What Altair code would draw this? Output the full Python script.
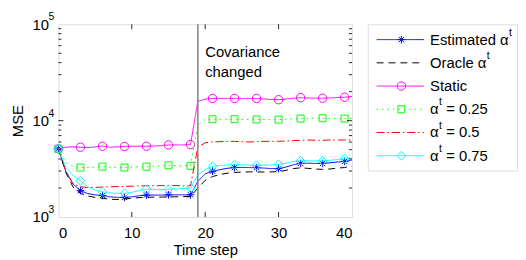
import altair as alt
import pandas as pd

# ---------------- data ----------------
time_steps = list(range(41))
estimated = [5100, 3000, 2200, 1880, 1750, 1700, 1670, 1620, 1600, 1600,
             1620, 1660, 1690, 1690, 1690, 1700, 1700, 1700, 1700, 2350,
             2800, 2990, 3100, 3200, 3260, 3270, 3260, 3250, 3220, 3180,
             3180, 3300, 3480, 3600, 3620, 3600, 3600, 3650, 3720, 3780, 3900]
oracle = [5100, 2900, 2050, 1760, 1650, 1600, 1570, 1530, 1520, 1540,
          1560, 1590, 1600, 1610, 1610, 1620, 1620, 1630, 1630, 2000,
          2400, 2630, 2760, 2850, 2900, 2930, 2940, 2940, 2930, 2940,
          2960, 3050, 3180, 3240, 3200, 3150, 3120, 3150, 3220, 3260, 3400]
static = [5100, 5300, 5350, 5300, 5250, 5350, 5430, 5300, 5350, 5400,
          5420, 5430, 5430, 5450, 5500, 5600, 5600, 5600, 5650, 15900,
          16700, 17000, 17000, 17000, 17000, 17000, 17000, 17000, 16800, 16600,
          16500, 16800, 17100, 17300, 17200, 17100, 17100, 17200, 17400, 17500, 17800]
alpha025 = [5100, 3700, 3350, 3260, 3280, 3300, 3330, 3300, 3280, 3260,
            3290, 3320, 3330, 3360, 3400, 3440, 3420, 3400, 3400, 9000,
            10300, 10350, 10350, 10350, 10350, 10300, 10300, 10300, 10280, 10260,
            10250, 10350, 10450, 10500, 10550, 10600, 10600, 10550, 10500, 10500, 10600]
alpha05 = [5100, 3000, 2200, 2060, 2020, 2030, 2050, 2060, 2070, 2080,
           2090, 2100, 2110, 2110, 2120, 2120, 2120, 2110, 2110, 5300,
           5900, 6000, 6050, 6100, 6100, 6050, 6000, 6050, 6100, 6100,
           6100, 6150, 6200, 6250, 6300, 6250, 6250, 6300, 6300, 6300, 6300]
alpha075 = [5100, 3300, 2700, 2380, 2050, 1900, 1830, 1780, 1760, 1760,
            1800, 1880, 1940, 1940, 1920, 1940, 1960, 1970, 2000, 2750,
            3100, 3350, 3420, 3470, 3500, 3480, 3450, 3440, 3450, 3480,
            3520, 3620, 3760, 3820, 3830, 3820, 3820, 3880, 3950, 4030, 4100]

series_names = ["Estimated αt", "Oracle αt", "Static",
                "αt = 0.25", "αt = 0.5", "αt = 0.75"]
legend_prefix = ["Estimated α", "Oracle α", "Static", "α", "α", "α"]
legend_sup = ["t", "t", "", "t", "t", "t"]
legend_suffix = ["", "", "", " = 0.25", " = 0.5", " = 0.75"]
series_values = [estimated, oracle, static, alpha025, alpha05, alpha075]

x_tick_values = [0, 10, 20, 30, 40]
y_tick_values = [1000, 10000, 100000]
y_tick_exps = ["3", "4", "5"]
y_minor_values = [2000, 3000, 4000, 5000, 6000, 7000, 8000, 9000,
                  20000, 30000, 40000, 50000, 60000, 70000, 80000, 90000]
change_step = 19
annotation_lines = ["Covariance", "changed"]
annotation_pos = [45870, 28610]

# ---------------- styles ----------------
ASTERISK = "M-1,0L1,0M0,-1L0,1M-0.7,-0.7L0.7,0.7M-0.7,0.7L0.7,-0.7"
colors = ["#0000ff", "#000000", "#ff00ff", "#00ff00", "#ff0000", "#00ffff"]
dashes = [[1, 0], [7, 5], [1, 0], [1.5, 4], [8, 3, 1.5, 3], [1, 0]]
shapes = [ASTERISK, None, "circle", "square", None, "diamond"]
sizes = [60, 0, 72, 50, 0, 80]
FONT = "Liberation Sans"
FS = 15
SUP_FS = 10.5
W, H = 297, 195

# Arial / Liberation Sans advance widths (per 1000 em) for legend layout
CW = {"E": 667, "s": 500, "t": 278, "i": 222, "m": 833, "a": 556, "e": 556,
      "d": 556, " ": 278, "O": 778, "r": 333, "c": 500, "l": 222, "S": 667,
      "=": 584, ".": 278, "α": 578}
for dch in "0123456789":
    CW[dch] = 556


def text_w(s, size):
    return sum(CW.get(ch, 556) for ch in s) * size / 1000.0


rows = []
for name, vals in zip(series_names, series_values):
    for t, v in zip(time_steps, vals):
        rows.append({"series": name, "t": t, "v": v})
df = pd.DataFrame(rows)

xs = alt.Scale(domain=[0, 40], nice=False)
ys = alt.Scale(type="log", domain=[1000, 100000], nice=False)

base = alt.Chart(df)
layers = []
for i, name in enumerate(series_names):
    sub = base.transform_filter(alt.datum.series == name)
    line = sub.mark_line(stroke=colors[i], color=colors[i], strokeWidth=1,
                         strokeDash=dashes[i]).encode(
        x=alt.X("t:Q", scale=xs,
                axis=alt.Axis(values=x_tick_values, title="Time step", ticks=False,
                              domain=False, grid=False, labelFont=FONT, titleFont=FONT,
                              labelFontSize=FS, titleFontSize=FS, labelColor="black",
                              titleColor="black", titleFontWeight="normal",
                              labelPadding=9, titlePadding=2)),
        y=alt.Y("v:Q", scale=ys,
                axis=alt.Axis(values=y_tick_values, title="MSE", ticks=False,
                              domain=False, grid=False, labelFont=FONT, titleFont=FONT,
                              labelFontSize=FS, titleFontSize=FS, labelColor="black",
                              titleColor="black", titleFontWeight="normal",
                              labelPadding=10, titlePadding=7, labelExpr="'10'")),
    )
    layers.append(line)
    if shapes[i] is not None:
        pts = sub.transform_filter("datum.t % 3 == 0").mark_point(
            shape=shapes[i], size=sizes[i], filled=False, stroke=colors[i], color=colors[i],
            strokeWidth=1, opacity=1).encode(x=alt.X("t:Q", scale=xs), y=alt.Y("v:Q", scale=ys))
        layers.append(pts)

# exponents of y tick labels
exps = alt.Chart(pd.DataFrame({"v": y_tick_values, "e": y_tick_exps})).mark_text(
    align="left", baseline="middle", font=FONT, fontSize=SUP_FS, color="black", dy=-7).encode(
    y=alt.Y("v:Q", scale=ys), x=alt.value(-10), text="e:N")

# vertical change line
vline = alt.Chart(pd.DataFrame({"t": [change_step]})).mark_rule(
    color="#808080", strokeWidth=1.5).encode(x=alt.X("t:Q", scale=xs))

ann = alt.Chart(pd.DataFrame({"t": [20, 20], "v": annotation_pos, "txt": annotation_lines})).mark_text(
    align="left", baseline="alphabetic", font=FONT, fontSize=FS, color="black").encode(
    x=alt.X("t:Q", scale=xs), y=alt.Y("v:Q", scale=ys), text="txt:N")

# inward ticks
tick_col = "#262626"
xt = alt.Chart(pd.DataFrame({"t": x_tick_values[1:-1]}))
xtick_b = xt.mark_rule(color=tick_col).encode(x=alt.X("t:Q", scale=xs), y=alt.value(H), y2=alt.value(H - 5))
xtick_t = xt.mark_rule(color=tick_col).encode(x=alt.X("t:Q", scale=xs), y=alt.value(0), y2=alt.value(5))
yt = alt.Chart(pd.DataFrame({"v": y_tick_values[1:-1]}))
ytick_l = yt.mark_rule(color=tick_col).encode(y=alt.Y("v:Q", scale=ys), x=alt.value(0), x2=alt.value(5))
ytick_r = yt.mark_rule(color=tick_col).encode(y=alt.Y("v:Q", scale=ys), x=alt.value(W), x2=alt.value(W - 5))
ym = alt.Chart(pd.DataFrame({"v": y_minor_values}))
ymin_l = ym.mark_rule(color=tick_col).encode(y=alt.Y("v:Q", scale=ys), x=alt.value(0), x2=alt.value(3))
ymin_r = ym.mark_rule(color=tick_col).encode(y=alt.Y("v:Q", scale=ys), x=alt.value(W), x2=alt.value(W - 3))

plot = alt.layer(*layers, exps, vline, ann, xtick_b, xtick_t, ytick_l, ytick_r, ymin_l, ymin_r).properties(
    width=W, height=H)

# ---------------- legend panel ----------------
TX = 63
leg_rows = []
for i in range(6):
    pw = text_w(legend_prefix[i], FS)
    sw = text_w(legend_sup[i], SUP_FS)
    suf = legend_suffix[i]
    lead = len(suf) - len(suf.lstrip(" "))
    leg_rows.append({"row": i, "label": series_names[i],
                     "pre": legend_prefix[i], "sup": legend_sup[i], "suf": suf.lstrip(" "),
                     "xpre": TX, "xsup": TX + pw + 0.3,
                     "xsuf": TX + pw + sw + 0.6 + lead * text_w(" ", FS)})
leg_df = pd.DataFrame(leg_rows)
ly = alt.Scale(domain=[0, 5], range=[15.5, 133])
lbase = alt.Chart(leg_df)
leg_layers = []
for i, name in enumerate(series_names):
    sub = lbase.transform_filter(alt.datum.row == i)
    leg_layers.append(sub.mark_rule(stroke=colors[i], color=colors[i], strokeWidth=1,
                                    strokeDash=dashes[i]).encode(
        y=alt.Y("row:Q", scale=ly, axis=None), x=alt.value(9), x2=alt.value(57)))
    if shapes[i] is not None:
        leg_layers.append(sub.mark_point(shape=shapes[i], size=sizes[i], filled=False,
                                         stroke=colors[i], color=colors[i], strokeWidth=1,
                                         opacity=1).encode(
            y=alt.Y("row:Q", scale=ly, axis=None), x=alt.value(34)))
txt_kw = dict(align="left", baseline="middle", font=FONT, color="black")
leg_pre = lbase.mark_text(fontSize=FS, **txt_kw).encode(
    y=alt.Y("row:Q", scale=ly, axis=None), x=alt.X("xpre:Q", scale=None), text="pre:N")
leg_sup = lbase.mark_text(fontSize=SUP_FS, dy=-7, **txt_kw).encode(
    y=alt.Y("row:Q", scale=ly, axis=None), x=alt.X("xsup:Q", scale=None), text="sup:N")
leg_suf = lbase.mark_text(fontSize=FS, **txt_kw).encode(
    y=alt.Y("row:Q", scale=ly, axis=None), x=alt.X("xsuf:Q", scale=None), text="suf:N")
legend = alt.layer(*leg_layers, leg_pre, leg_sup, leg_suf).properties(width=151, height=148)

chart = alt.hconcat(plot, legend, spacing=16).properties(
    bounds="flush", padding={"left": 1, "top": 2, "right": 0, "bottom": 0}
).configure_view(stroke="#262626", strokeWidth=1).configure(font=FONT)

chart.save("out.html", embed_options={"renderer": "svg", "actions": False})
